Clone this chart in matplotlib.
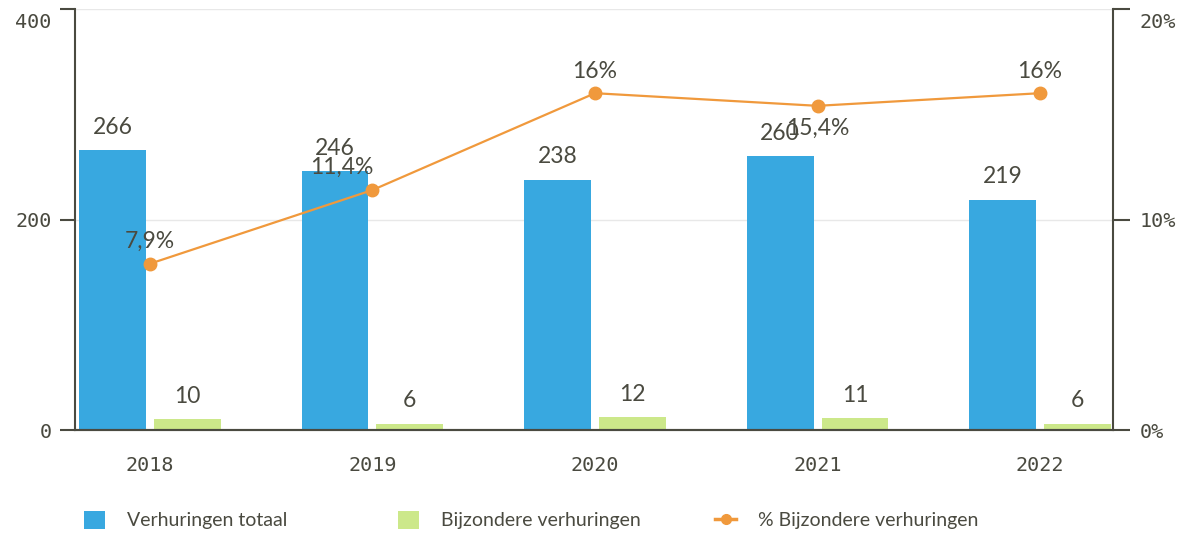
import matplotlib
matplotlib.use("Agg")
import matplotlib.pyplot as plt
import matplotlib.transforms as mtransforms
from matplotlib.patches import Patch
from matplotlib.lines import Line2D
import numpy as np

years = ["2018", "2019", "2020", "2021", "2022"]
totaal = [266, 246, 238, 260, 219]
bijzonder = [10, 6, 12, 11, 6]
pct_bijzonder = [7.9, 11.4, 16.0, 15.4, 16.0]

left_ticks = [0, 200, 400]
right_ticks = [0, 10, 20]

BLUE = "#38A8E0"
GREEN = "#CCE88A"
ORANGE = "#F0993C"
INK = "#4A4A40"
GRID = "#E8E8E8"

MONO = "DejaVu Sans Mono"
SANS = "Lato"

W, H = 1188, 533
fig = plt.figure(figsize=(W / 100, H / 100), dpi=100)
ax = fig.add_axes([75 / W, (H - 430) / H, (1113 - 75) / W, (430 - 9) / H])
ax2 = ax.twinx()

x = np.arange(len(years))
bw = 0.30
off = 0.168

ax.bar(x - off, totaal, width=bw, color=BLUE, zorder=2)
ax.bar(x + off, bijzonder, width=bw, color=GREEN, zorder=2)

ax.set_xlim(-0.337, 4.328)
ax.set_ylim(0, 400)
ax.set_yticks(left_ticks)
ax.set_yticklabels([str(t) for t in left_ticks])
ax.set_xticks(x)
ax.set_xticklabels(years)

ax.yaxis.grid(True, color=GRID, linewidth=1.0, zorder=0)
ax.set_axisbelow(True)

for a in (ax, ax2):
    for s in a.spines.values():
        s.set_color(INK)
        s.set_linewidth(1.5)
    a.spines["top"].set_visible(False)

ax.spines["right"].set_visible(False)
ax2.spines["left"].set_visible(False)

ax.tick_params(axis="y", length=11, width=1.5, color=INK, pad=6,
               labelsize=14.5, labelcolor=INK)
ax.tick_params(axis="x", length=0, pad=19, labelsize=14.5, labelcolor=INK)
for lbl in ax.get_xticklabels() + ax.get_yticklabels():
    lbl.set_fontfamily(MONO)

ax2.set_ylim(0, 20)
ax2.set_yticks(right_ticks)
ax2.set_yticklabels([f"{t}%" for t in right_ticks])
ax2.tick_params(axis="y", length=12, width=1.5, color=INK, pad=7,
                labelsize=14.5, labelcolor=INK)
for lbl in ax2.get_yticklabels():
    lbl.set_fontfamily(MONO)

# Keep the top tick labels inside the figure by nudging them down
shift = mtransforms.ScaledTranslation(0, -12 / 100, fig.dpi_scale_trans)
for a in (ax, ax2):
    top_lbl = a.get_yticklabels()[-1]
    top_lbl.set_transform(top_lbl.get_transform() + shift)

ax2.plot(x, pct_bijzonder, color=ORANGE, linewidth=1.6, marker="o",
         markersize=9, zorder=3)
ax2.set_zorder(ax.get_zorder() + 1)
ax2.patch.set_visible(False)

label_kw = dict(ha="center", va="center", fontsize=16.5, color=INK,
                fontfamily=SANS, textcoords="offset pixels")

for xi, v in zip(x, totaal):
    ax.annotate(str(v), (xi - off, v), xytext=(0, 23), **label_kw)
for xi, v in zip(x, bijzonder):
    ax.annotate(str(v), (xi + off, v), xytext=(0, 23), **label_kw)

pct_offsets = [(0, 22), (-31, 23), (0, 22), (0, -23), (0, 22)]
for xi, v, (dx, dy) in zip(x, pct_bijzonder, pct_offsets):
    txt = f"{v:g}".replace(".", ",") + "%"
    ax2.annotate(txt, (xi, v), xytext=(dx, dy), zorder=4, **label_kw)

# Legend entries laid out along the bottom
entries = [
    (Patch(facecolor=BLUE, edgecolor="none"), "Verhuringen totaal", 84),
    (Patch(facecolor=GREEN, edgecolor="none"), "Bijzondere verhuringen", 398),
    (Line2D([], [], color=ORANGE, linewidth=2.5, marker="o", markersize=7),
     "% Bijzondere verhuringen", 715),
]
for handle, text, px in entries:
    leg = fig.legend([handle], [text], loc="center left",
                     bbox_to_anchor=(px / W, (H - 520) / H),
                     frameon=False, handlelength=1.1, handleheight=1.1,
                     handletextpad=1.1, borderaxespad=0, borderpad=0,
                     prop={"family": SANS, "size": 14})
    for t in leg.get_texts():
        t.set_color(INK)

fig.savefig("out.png", dpi=100)
